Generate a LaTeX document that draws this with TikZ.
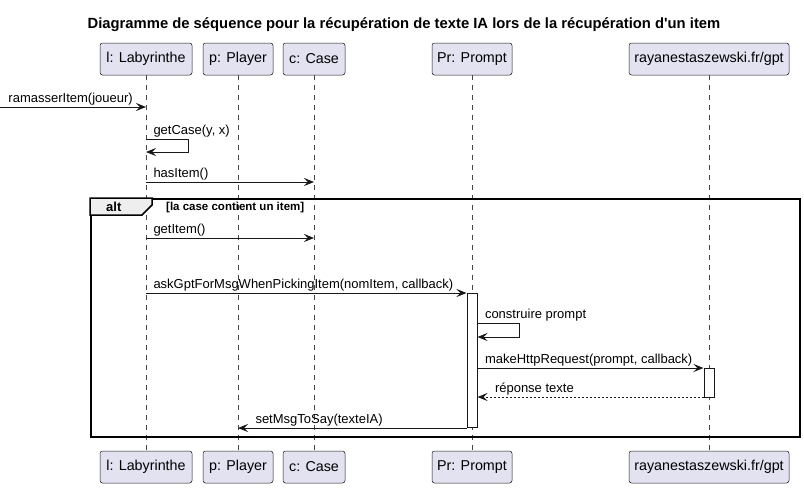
\documentclass[tikz,border=0pt]{standalone}
\usepackage{fontspec}
\setmainfont{Liberation Sans}
\usetikzlibrary{arrows.meta,positioning,calc}
\definecolor{partfill}{HTML}{E2E2F0}
\definecolor{linecol}{HTML}{181818}
\definecolor{tabfill}{HTML}{EEEEEE}

\begin{document}
\begin{tikzpicture}[
    x=1pt, y=-1pt,
    part/.style={rectangle, draw=linecol, fill=partfill, rounded corners=2.5pt, line width=0.5pt, minimum height=32, inner sep=0pt, font=\fontsize{14.3}{16}\selectfont},
    lifeline/.style={draw=linecol!80, line width=0.5pt, dash pattern=on 5pt off 5pt},
    msg/.style={-{Stealth[length=10pt, width=8pt, inset=4pt]}, draw=linecol, line width=1pt},
    ret/.style={msg, dash pattern=on 2pt off 2pt},
    lbl/.style={font=\fontsize{13}{15}\selectfont, inner sep=0pt, anchor=base west, yshift=5},
    act/.style={rectangle, draw=linecol, fill=white, line width=1pt, minimum width=10, inner sep=0pt},
    frame/.style={draw=black, line width=1.5pt}
]
\useasboundingbox (0,0) rectangle (804,488);

% Title
\node[font=\bfseries\fontsize{14.8}{17}\selectfont] (title) at (404,25) {Diagramme de séquence pour la récupération de texte IA lors de la récupération d\textquotesingle un item};

% Participants (top and bottom)
\foreach \id/\x/\w/\name in {
    lab/146/92/{l: Labyrinthe},
    ply/238/70/{p: Player},
    cas/314/62/{c: Case},
    prm/472/80/{Pr: Prompt},
    gpt/709/160/{rayanestaszewski.fr/gpt}} {
    \node[part, minimum width=\w] (\id) at (\x, 59) {\name};
    \node[part, minimum width=\w] (\id2) at (\x, 467) {\name};
}

% Lifelines
\foreach \id in {lab,ply,cas,prm,gpt} {
    \draw[lifeline] (\id) -- (\id2);
}

% Activations
\node[act, minimum height=134] (actP) at (472, 360) {};
\node[act, minimum height=29] (actG) at (709, 382.5) {};

% Messages before the alt block
\coordinate (start) at (0,107);
\draw[msg] (start) node[lbl, xshift=8] {ramasserItem(joueur)} -- (lab |- start);
\draw[msg] (lab |- 0,139) node[lbl, xshift=7] {getCase(y, x)} -- ++(42,0) -- ++(0,13) -- (lab |- 0,152);
\draw[msg] (lab |- 0,182) node[lbl, xshift=7] {hasItem()} -- (cas |- 0,182);

% Alt frame
\node[frame, minimum width=709, minimum height=238, anchor=north west, inner sep=0pt] (alt) at (90,198) {};
\draw[frame, fill=tabfill] (alt.north west) -- ++(62,0) -- ++(0,7) -- ++(-10,10) -- ++(-52,0) -- cycle;
\node[font=\bfseries\fontsize{13}{15}\selectfont, inner sep=0pt, anchor=base west] (altlbl) at (106,211) {alt};
\node[font=\bfseries\fontsize{11.5}{13}\selectfont, inner sep=0pt, anchor=base west] (guard) at (166,210) {[la case contient un item]};

% Messages inside the alt block
\draw[msg] (lab |- 0,238) node[lbl, xshift=7] {getItem()} -- (cas |- 0,238);
\draw[msg] (lab |- 0,293) node[lbl, xshift=7] {askGptForMsgWhenPickingItem(nomItem, callback)} -- (actP.west |- 0,293);
\draw[msg] (actP.east |- 0,323) node[lbl, xshift=7] {construire prompt} -- ++(42,0) -- ++(0,14) -- (actP.east |- 0,337);
\draw[msg] (actP.east |- 0,368) node[lbl, xshift=7] {makeHttpRequest(prompt, callback)} -- (actG.west |- 0,368);
\draw[ret] (actG.west |- 0,397) -- (actP.east |- 0,397) node[lbl, xshift=17] {réponse texte};
\draw[msg] (actP.west |- 0,428) -- (ply |- 0,428) node[lbl, xshift=17] {setMsgToSay(texteIA)};

\end{tikzpicture}
\end{document}
